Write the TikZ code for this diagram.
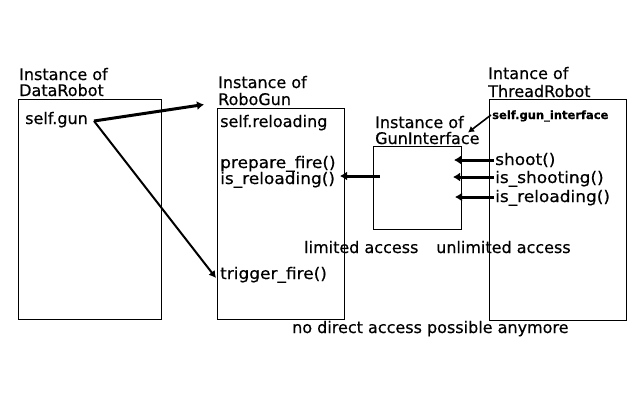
\documentclass[tikz,border=0pt]{standalone}
\usepackage{fontspec}
\setmainfont{DejaVu Sans}[FakeBold=0.5]
\usetikzlibrary{arrows.meta}
\begin{document}
\begin{tikzpicture}[x=1pt,y=-1pt,
  txt/.style={anchor=base west,inner sep=0pt,font=\fontsize{16}{16}\selectfont},
  paren/.style={txt,font=\fontsize{16}{16}\selectfont\addfontfeatures{FakeStretch=1.06}},
  smalltxt/.style={anchor=base west,inner sep=0pt,font=\fontsize{11.5}{11.5}\selectfont\bfseries},
  box/.style={draw,line width=1pt,anchor=north west,inner sep=0pt,outer sep=0pt},
  fatarrow/.style={line width=3pt,-{Latex[length=7pt,width=9pt]}},
  midarrow/.style={line width=2pt,-{Latex[length=7pt,width=8pt]}},
  thinarrow/.style={line width=1.6pt,-{Latex[length=6pt,width=7pt]}}]
\useasboundingbox[fill=white] (0,0) rectangle (640,400);
% boxes
\node[box,minimum width=143pt,minimum height=220pt] (dr) at (18,99.5) {};
\node[box,minimum width=127pt,minimum height=211pt] (rg) at (217.5,108.5) {};
\node[box,minimum width=88pt,minimum height=83pt] (gi) at (373.5,146) {};
\node[box,minimum width=137pt,minimum height=221pt] (tr) at (489.5,99.5) {};
% titles
\node[txt] (drt1) at (19,80) {Instance of};
\node[txt] (drt2) at (19,96) {DataRobot};
\node[txt] (rgt1) at (218,88) {Instance of};
\node[txt] (rgt2) at (218,105) {RoboGun};
\node[txt] (git1) at (375,128) {Instance of};
\node[txt] (git2) at (375,144) {GunInterface};
\node[txt] (trt1) at (488,79) {Intance of};
\node[txt] (trt2) at (488,97) {ThreadRobot};
% contents
\node[txt] (sg) at (25,124) {self.gun};
\node[txt] (srl) at (220,127) {self.reloading};
\node[paren] (pf) at (220,168) {prepare\_fire()};
\node[paren] (ir) at (220,184) {is\_reloading()};
\node[paren] (tf) at (220,279) {trigger\_fire()};
\node[smalltxt] (sgi) at (492,119) {self.gun\_interface};
\node[paren] (sh) at (495,165) {shoot()};
\node[paren] (iss) at (495,183) {is\_shooting()};
\node[paren] (isr) at (495,202) {is\_reloading()};
\node[txt] (la) at (304,253) {limited access};
\node[txt] (ua) at (436,253) {unlimited access};
\node[txt] (nd) at (292,333) {no direct access possible anymore};
% connector points
\coordinate (s0) at (94,121);
\coordinate (t1) at (204,104.5);
\coordinate (t2) at (216,278);
\coordinate (g0) at (380,176);
\coordinate (g1) at (340,176);
\coordinate (h0) at (491,115);
\coordinate (h1) at (468,132.5);
\coordinate (a0) at (494,160);
\coordinate (a1) at (454,160);
\coordinate (b0) at (494,177);
\coordinate (b1) at (453,177);
\coordinate (c0) at (494,197);
\coordinate (c1) at (455,197);
% connectors
\draw[fatarrow] (s0) -- (t1);
\draw[midarrow] (s0) -- (t2);
\draw[fatarrow] (g0) -- (g1);
\draw[thinarrow] (h0) -- (h1);
\draw[fatarrow] (a0) -- (a1);
\draw[fatarrow] (b0) -- (b1);
\draw[fatarrow] (c0) -- (c1);
\end{tikzpicture}
\end{document}
